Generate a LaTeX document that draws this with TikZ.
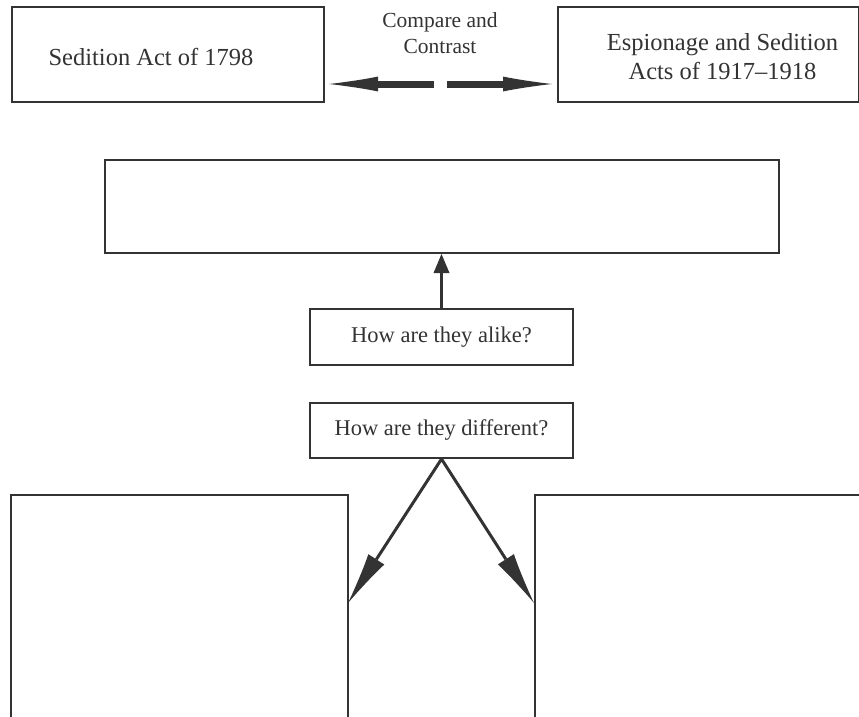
\documentclass[tikz,border=0pt]{standalone}
\usepackage{fontspec}
\setmainfont{Liberation Serif}
\usetikzlibrary{arrows.meta}
\definecolor{ink}{HTML}{333333}
\begin{document}
\begin{tikzpicture}[x=1pt,y=-1pt,
  box/.style={draw=ink, line width=2pt, rectangle, inner sep=0pt, anchor=north west, align=center, text=ink},
  label/.style={align=center, text=ink, inner sep=0pt},
  bigfont/.style={font=\fontsize{24.5}{29.5}\selectfont},
  midfont/.style={font=\fontsize{22.5}{27}\selectfont},
  bigarrow/.style={draw=ink, line width=7pt, -{Latex[length=49pt,width=15pt,line width=0pt]}},
  thinarrow/.style={draw=ink, line width=3pt, -{Latex[length=52pt,width=19pt,line width=0pt]}},
  uparrow/.style={draw=ink, line width=3pt, -{Triangle[length=19pt,width=16pt,line width=0pt]}}]
\useasboundingbox (0,0) rectangle (859,717);
\clip (0,0) rectangle (859,717);
\fill[white] (0,0) rectangle (859,717);
\node[box, minimum width=312pt, minimum height=95pt] (act1798) at (11,6) {};
\node[label, bigfont] (t1798) at ([xshift=-17pt,yshift=-2pt]act1798.center) {Sedition Act of 1798};
\node[box, minimum width=301pt, minimum height=95pt] (act1917) at (557,6) {};
\node[label, bigfont] (t1917) at ([xshift=14pt,yshift=-2pt]act1917.center) {Espionage and Sedition\\Acts of 1917--1918};
\node[label, font=\fontsize{21.5}{26}\selectfont] (cmp) at (440,33) {Compare and\\Contrast};
\node[box, minimum width=674pt, minimum height=93pt] (middle) at (104,159) {};
\node[box, midfont, minimum width=263pt, minimum height=56pt] (alike) at (309,308) {How are they alike?};
\node[box, midfont, minimum width=263pt, minimum height=55pt] (diff) at (309,402) {How are they different?};
\node[box, minimum width=337pt, minimum height=300pt] (bl) at (10,494) {};
\node[box, minimum width=400pt, minimum height=300pt] (br) at (534,494) {};
\coordinate (ltail) at (434,84);
\coordinate (lhead) at (329,84);
\coordinate (rtail) at (447,84);
\coordinate (rhead) at (552,84);
\draw[bigarrow] (ltail) -- (lhead);
\draw[bigarrow] (rtail) -- (rhead);
\draw[uparrow] (alike.north) -- (alike.north |- middle.south);
\coordinate (tipL) at (348,603);
\coordinate (tipR) at (534,603);
\draw[thinarrow] (diff.south) -- (tipL);
\draw[thinarrow] (diff.south) -- (tipR);
\end{tikzpicture}
\end{document}
